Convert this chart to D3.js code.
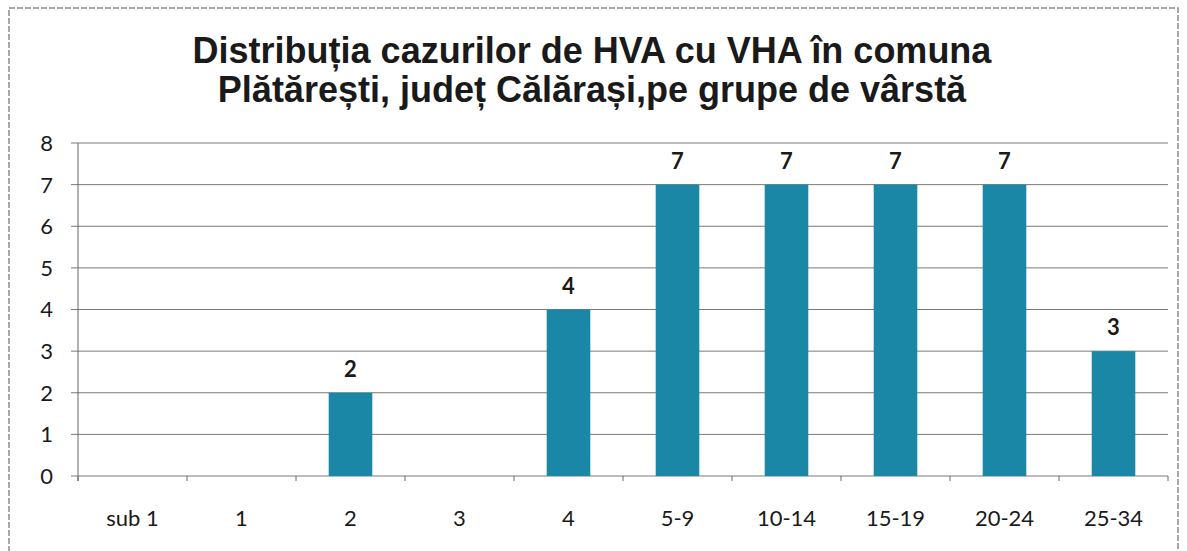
<!DOCTYPE html>
<html>
<head>
<meta charset="utf-8">
<script src="https://cdn.jsdelivr.net/npm/d3@7"></script>
<style>
  body { margin: 0; background: #fff; }
  svg { display: block; }
</style>
</head>
<body>
<svg id="chart" width="1187" height="551"></svg>
<script>
// age groups and counts
var categories = ["sub 1", "1", "2", "3", "4", "5-9", "10-14", "15-19", "20-24", "25-34"];
var values = [0, 0, 2, 0, 4, 7, 7, 7, 7, 3];
var yTicks = [0, 1, 2, 3, 4, 5, 6, 7, 8];
var titleLines = ["Distribuția cazurilor de HVA cu VHA în comuna", "Plătărești, județ Călărași,pe grupe de vârstă"];

var svg = d3.select("#chart");
var W = 1187, H = 551;
var m = { left: 78, right: 19, top: 143, bottom: 75 };
var font = "Lato, sans-serif";

// outer frame of the chart box
svg.append("rect")
  .attr("x", 9).attr("y", 8).attr("width", W - 18).attr("height", H)
  .attr("fill", "none").attr("stroke", "#8a8a8a").attr("stroke-width", 1.5)
  .attr("stroke-dasharray", "6,2");

svg.selectAll("text.title").data(titleLines).enter().append("text")
  .attr("class", "title")
  .attr("x", 592).attr("y", function (d, i) { return 63 + i * 39; })
  .attr("text-anchor", "middle")
  .attr("font-family", "Liberation Sans, Arial, sans-serif")
  .attr("font-weight", "bold").attr("font-size", 36)
  .attr("fill", "#1a1a1a")
  .text(function (d) { return d; });

var x = d3.scaleBand().domain(categories)
  .range([m.left, W - m.right]).paddingInner(0.6).paddingOuter(0.3);
var xb = d3.scaleBand().domain(categories).range([m.left, W - m.right]);
var y = d3.scaleLinear().domain([0, 8]).range([H - m.bottom, m.top]);

// gridlines
svg.append("g").selectAll("line").data(yTicks).enter().append("line")
  .attr("x1", m.left - 7).attr("x2", W - m.right)
  .attr("y1", function (d) { return y(d); }).attr("y2", function (d) { return y(d); })
  .attr("stroke", "#7a7a72").attr("stroke-width", 1);

// y axis line
svg.append("line")
  .attr("x1", m.left).attr("x2", m.left)
  .attr("y1", y(8)).attr("y2", y(0) + 5)
  .attr("stroke", "#666").attr("stroke-width", 1);

// y tick labels
svg.append("g").selectAll("text").data(yTicks).enter().append("text")
  .attr("x", 53).attr("y", function (d) { return y(d); })
  .attr("dy", "0.36em").attr("text-anchor", "end")
  .attr("font-family", font).attr("font-size", 22)
  .attr("fill", "#1a1a1a")
  .text(function (d) { return d; });

// x ticks at category boundaries
var bounds = categories.map(function (c) { return xb(c); }).concat([W - m.right]);
svg.append("g").selectAll("line").data(bounds).enter().append("line")
  .attr("x1", function (d) { return d; }).attr("x2", function (d) { return d; })
  .attr("y1", y(0)).attr("y2", y(0) + 5)
  .attr("stroke", "#666");

// bars
svg.append("g").selectAll("rect").data(values).enter().append("rect")
  .attr("x", function (d, i) { return x(categories[i]); })
  .attr("width", x.bandwidth())
  .attr("y", function (d) { return y(d); })
  .attr("height", function (d) { return y(0) - y(d); })
  .attr("fill", "#1b87a6");

// value labels, only for non-empty groups
svg.append("g").selectAll("text").data(categories).enter().append("text")
  .filter(function (c, i) { return values[i] > 0; })
  .attr("x", function (c) { return x(c) + x.bandwidth() / 2; })
  .attr("y", function (c) { return y(values[categories.indexOf(c)]) - 16; })
  .attr("text-anchor", "middle")
  .attr("font-family", font).attr("font-weight", "bold").attr("font-size", 22)
  .attr("fill", "#1a1a1a")
  .text(function (c) { return values[categories.indexOf(c)]; });

// category labels
svg.append("g").selectAll("text").data(categories).enter().append("text")
  .attr("x", function (c) { return xb(c) + xb.bandwidth() / 2; })
  .attr("y", 526)
  .attr("text-anchor", "middle")
  .attr("font-family", font).attr("font-size", 22)
  .attr("fill", "#1a1a1a")
  .text(function (c) { return c; });
</script>
</body>
</html>
